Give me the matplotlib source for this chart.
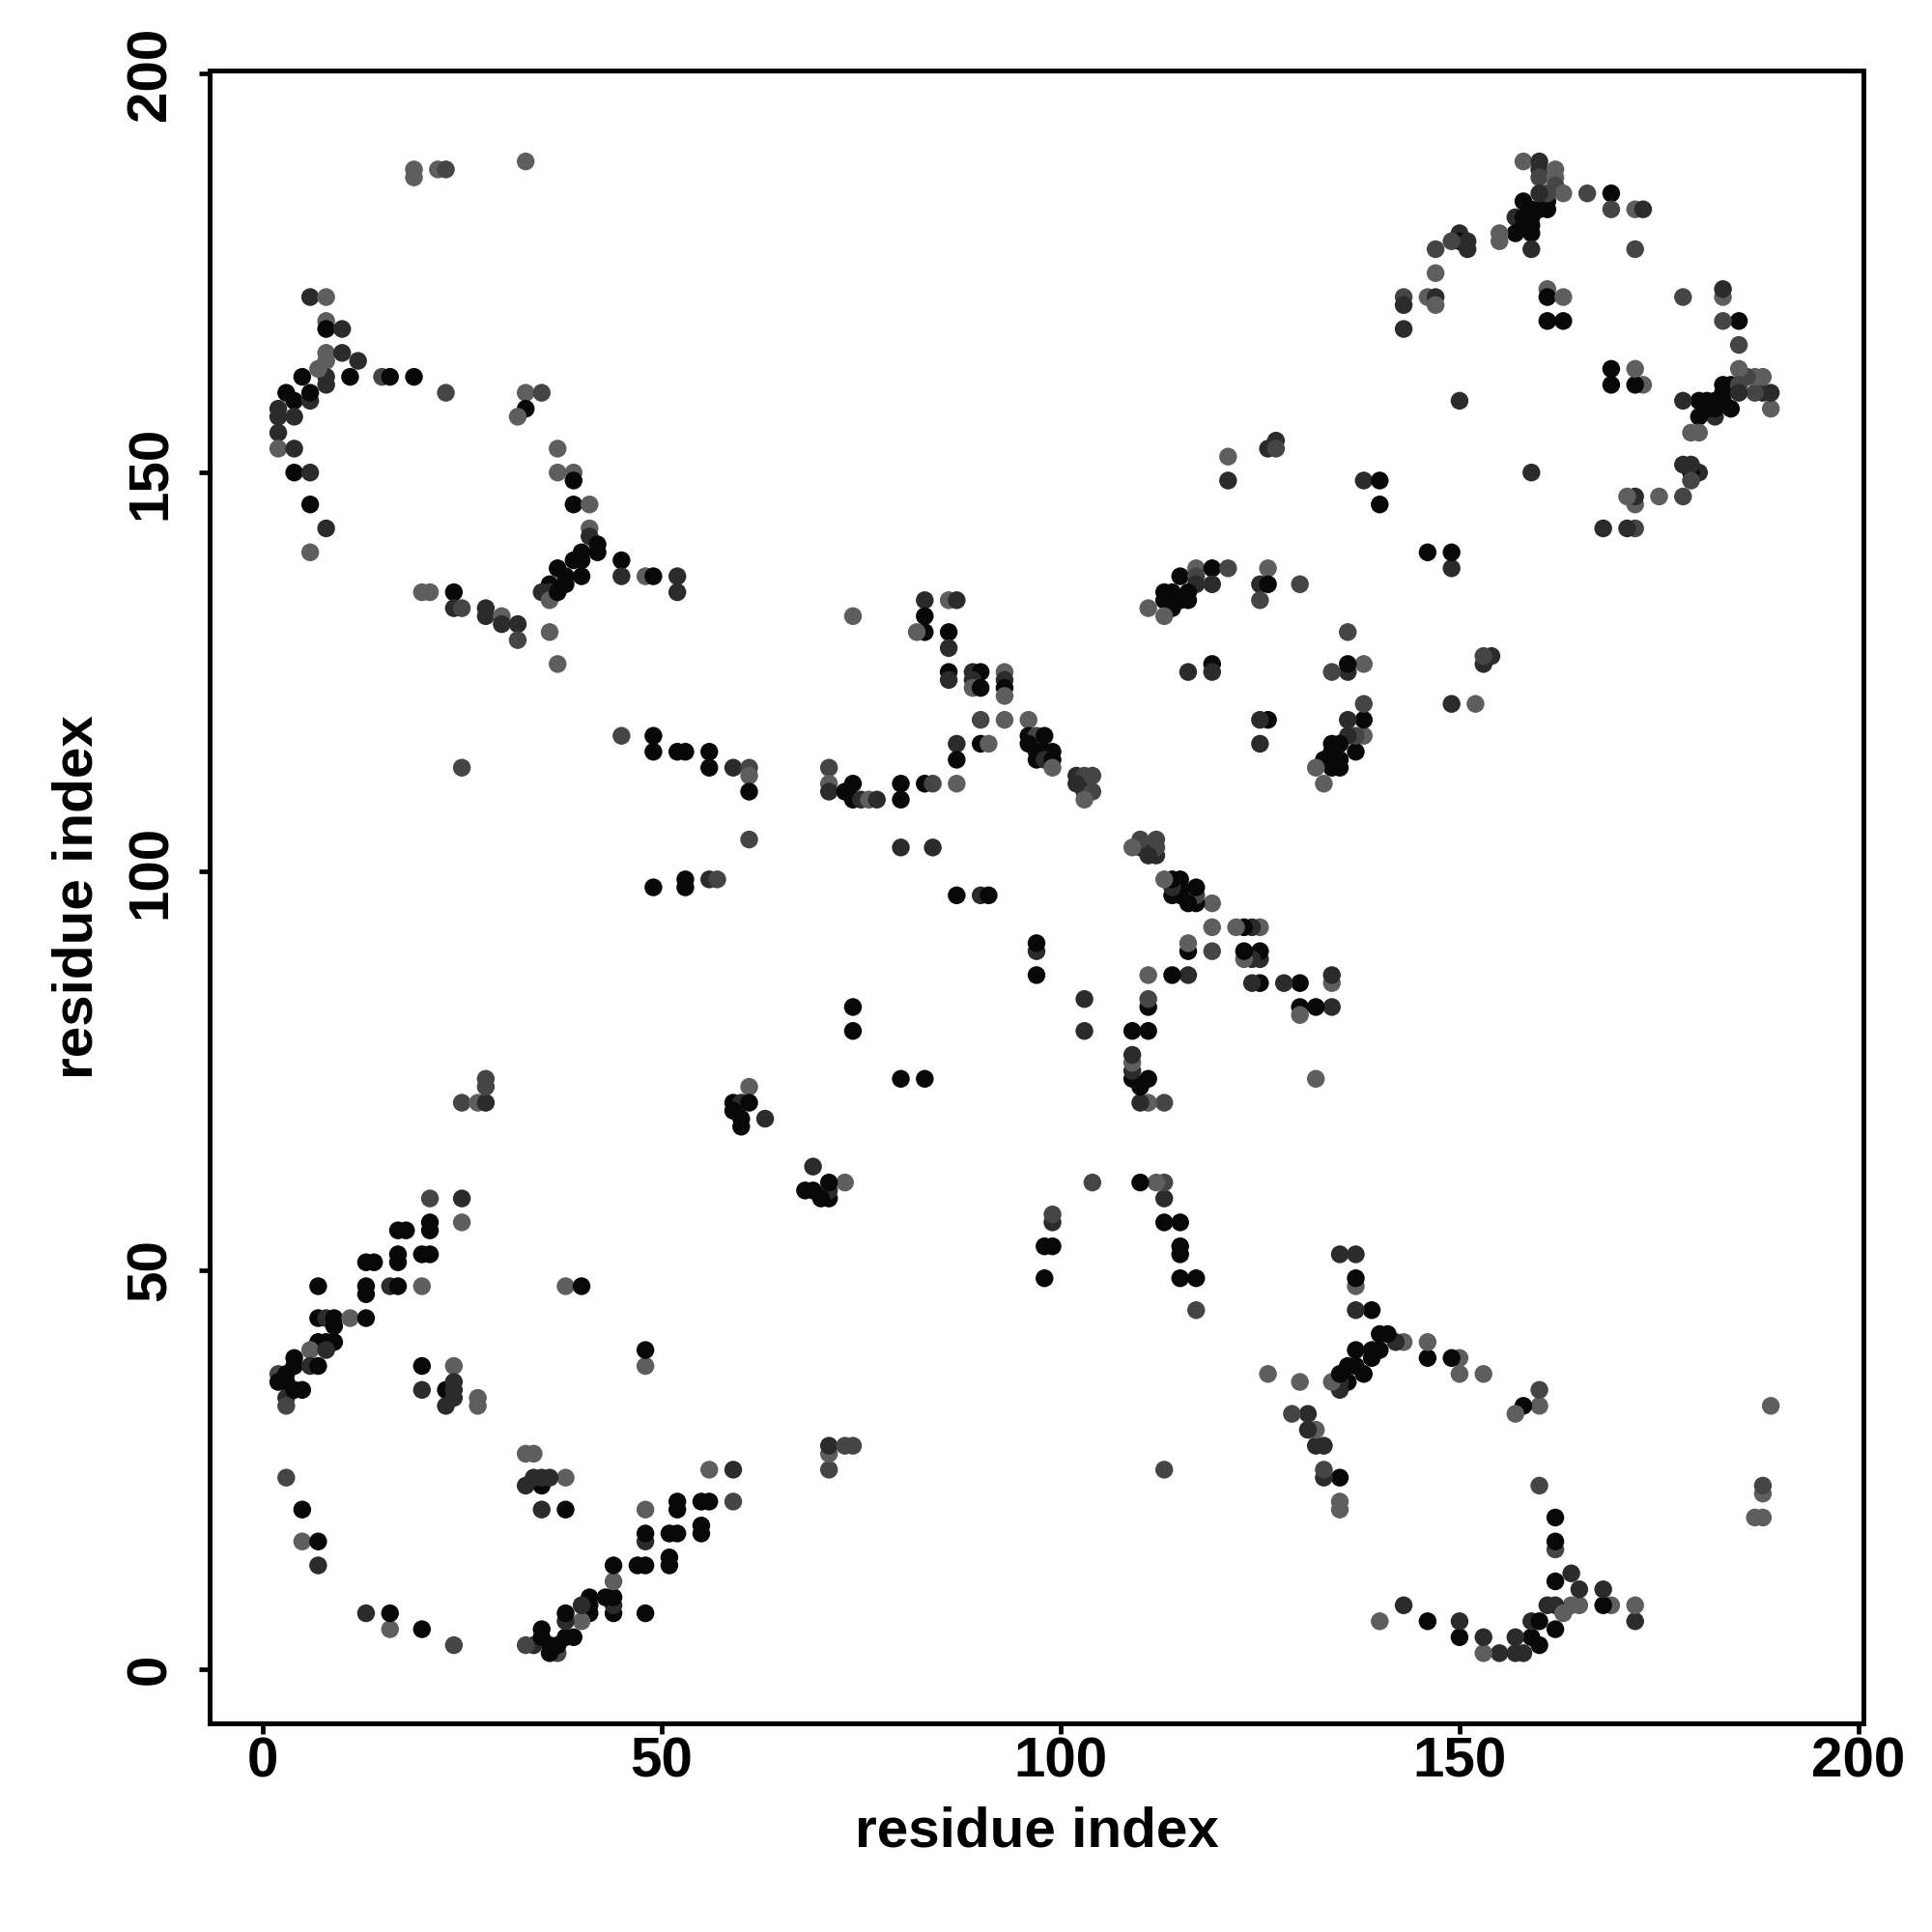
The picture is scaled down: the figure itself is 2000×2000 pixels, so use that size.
import numpy as np
import matplotlib
matplotlib.use("Agg")
import matplotlib.pyplot as plt

# contacts read from the upper triangle (i < j); the map is symmetric
res_i = [19, 19, 22, 23, 33, 6, 8, 8, 8, 10, 8, 8, 10, 12, 11, 8, 8, 7, 5, 3,
         4, 6, 2, 2, 4, 6, 2, 2, 4, 4, 6, 6, 8, 6, 15, 16, 19, 23, 33, 35,
         33, 32, 37, 37, 39, 39, 39, 41, 41, 41, 42, 42, 40, 39, 37, 40, 38, 40, 36, 36,
         35, 36, 37, 38, 45, 45, 48, 49, 52, 52, 20, 21, 24, 24, 25, 28, 28, 30, 32, 36,
         30, 32, 37,
         25, 45, 49, 49, 52, 53, 56, 56, 59, 61, 61, 61, 61, 49, 53, 53, 56, 57, 25, 27,
         28, 28, 28, 61, 59, 60, 61, 59, 60, 60, 63,
         121, 121, 126, 127, 127, 117, 119, 121, 115, 117, 119, 117, 113, 114, 116, 113, 115, 116, 111, 114,
         113, 126, 125, 126, 125, 130, 83, 83, 86, 87, 74,
         83, 82, 86, 86, 86, 86, 89, 90, 89, 89, 90, 93, 93, 93, 93, 90, 93, 96, 87, 87,
         90, 91, 96, 97, 98, 96, 97, 98, 99, 97, 98, 99, 99, 102, 103, 104, 102, 103, 104, 103,
         71, 71, 71, 73, 74, 74, 75, 76, 77, 80, 80, 83, 84, 87, 80, 84, 87, 90, 91, 74,
         74, 116, 119, 119,
         158, 160, 160, 160, 162, 162, 162, 163, 166, 169, 169, 172, 173, 172, 158, 159, 160, 161, 161, 157,
         158, 159, 158, 159, 157, 159, 159, 161, 160, 155, 155, 150, 150, 151, 151, 149, 147, 147, 143, 143,
         146, 147, 147, 143, 161, 161, 163, 161, 163, 150, 138, 140, 140,
         21, 25, 25, 21, 21, 17, 18, 17, 17, 20, 21, 13, 14, 13, 13, 16, 17, 20, 7, 7,
         8, 9, 11, 13, 9, 7, 8, 9, 6, 8, 4, 4, 6, 7, 2, 3, 2, 3, 5, 3,
         3, 4, 20, 24, 20, 23, 24, 24, 23, 24, 27, 27, 3, 5, 5, 7, 7, 38, 40]
res_j = [188, 187, 188, 188, 189, 172, 172, 169, 168, 168, 165, 164, 165, 164, 162, 162, 161, 163, 162, 160,
         159, 159, 158, 157, 157, 160, 155, 153, 153, 150, 150, 146, 143, 140, 162, 162, 162, 160, 160, 160,
         158, 157, 153, 150, 150, 149, 146, 146, 143, 142, 141, 140, 140, 139, 138, 139, 137, 137, 136, 135,
         135, 134, 135, 136, 139, 137, 137, 137, 137, 135, 135, 135, 135, 133, 133, 133, 132, 132, 131, 130,
         131, 129, 126,
         113, 117, 117, 115, 115, 115, 115, 113, 113, 113, 112, 110, 104, 98, 99, 98, 99, 99, 71, 71,
         71, 74, 73, 73, 71, 71, 71, 70, 69, 68, 69,
         152, 149, 153, 154, 153, 138, 138, 138, 137, 137, 136, 136, 135, 135, 135, 134, 134, 134, 133, 133,
         132, 138, 136, 136, 134, 136, 134, 132, 134, 134, 132,
         130, 130, 130, 128, 125, 124, 125, 125, 124, 123, 123, 125, 124, 123, 122, 119, 119, 119, 116, 114,
         116, 116, 117, 117, 117, 116, 115, 115, 115, 114, 114, 114, 113, 112, 112, 112, 111, 110, 110, 109,
         113, 111, 110, 110, 111, 109, 109, 109, 109, 111, 109, 111, 111, 111, 103, 103, 97, 97, 97, 83,
         80, 125, 126, 125,
         189, 189, 188, 187, 188, 187, 186, 185, 185, 185, 183, 183, 183, 178, 184, 183, 183, 183, 184, 182,
         182, 182, 181, 181, 180, 180, 178, 185, 185, 180, 179, 180, 179, 179, 178, 179, 178, 175, 172, 171,
         172, 172, 171, 168, 173, 172, 172, 169, 169, 159, 149, 149, 146,
         59, 59, 56, 56, 55, 55, 55, 52, 51, 52, 52, 51, 51, 48, 47, 48, 48, 48, 48, 44,
         44, 44, 44, 44, 43, 41, 41, 41, 40, 40, 39, 38, 38, 38, 37, 37, 36, 36, 35, 34,
         33, 35, 38, 38, 35, 35, 36, 34, 33, 35, 34, 33, 24, 20, 16, 16, 13, 48, 48]
# 0 = black (strongest) ... 3 = light grey (weakest)
level = [3, 3, 3, 2, 3, 1, 3, 3, 0, 1, 3, 3, 1, 1, 0, 1, 1, 3, 0, 0,
         0, 1, 1, 1, 1, 0, 1, 3, 1, 0, 1, 0, 1, 3, 2, 0, 0, 2, 3, 2,
         0, 3, 3, 3, 3, 0, 0, 3, 3, 1, 0, 0, 0, 0, 0, 0, 0, 0, 0, 1,
         1, 3, 0, 0, 0, 1, 3, 0, 1, 1, 3, 3, 0, 1, 2, 1, 1, 3, 1, 3,
         1, 2, 3,
         2, 2, 0, 0, 0, 0, 0, 0, 1, 2, 3, 0, 2, 0, 0, 0, 1, 2, 2, 3,
         1, 2, 2, 3, 0, 1, 0, 0, 0, 0, 1,
         3, 1, 1, 1, 2, 3, 0, 2, 0, 2, 1, 1, 0, 0, 0, 0, 0, 0, 3, 0,
         3, 3, 1, 0, 2, 2, 1, 0, 3, 1, 3,
         0, 3, 0, 1, 0, 1, 1, 0, 1, 3, 0, 3, 1, 0, 3, 2, 3, 3, 1, 0,
         0, 3, 0, 2, 0, 0, 0, 0, 0, 0, 1, 0, 3, 1, 2, 2, 1, 1, 2, 3,
         2, 3, 1, 0, 0, 0, 1, 3, 1, 0, 0, 0, 2, 3, 1, 1, 0, 1, 0, 0,
         0, 1, 0, 1,
         3, 1, 1, 2, 3, 3, 2, 3, 2, 0, 2, 3, 1, 2, 0, 0, 0, 0, 0, 1,
         0, 0, 0, 0, 0, 0, 1, 2, 1, 3, 3, 1, 0, 1, 1, 2, 2, 3, 2, 1,
         3, 1, 3, 1, 3, 0, 3, 0, 0, 1, 1, 0, 0,
         2, 1, 3, 0, 0, 0, 0, 0, 0, 0, 0, 0, 0, 0, 0, 1, 0, 3, 0, 0,
         1, 0, 3, 0, 0, 0, 0, 0, 3, 1, 0, 0, 1, 0, 2, 0, 0, 0, 0, 1,
         2, 0, 0, 3, 1, 0, 1, 1, 1, 1, 3, 3, 2, 0, 3, 0, 1, 3, 0]

ticks = [0, 50, 100, 150, 200]

plt.rcParams['font.family'] = ['Liberation Sans', 'DejaVu Sans']
plt.rcParams['font.weight'] = 'bold'

i = np.array(res_i)
j = np.array(res_j)
lv = np.array(level)
grey_of = np.array([0.03, 0.17, 0.27, 0.37])
cols = np.repeat(grey_of[lv][:, None], 3, axis=1)

fig = plt.figure(figsize=(20, 20), dpi=100)
ax = fig.add_axes([0.1085, 0.108, 0.856, 0.8555])

# both halves of the symmetric map
ax.scatter(j, i, s=176, c=cols, linewidths=0)
ax.scatter(i, j, s=176, c=cols, linewidths=0)

ax.set_xlim(-6.6, 200.6)
ax.set_ylim(-6.8, 200.4)
ax.set_xticks(ticks)
ax.set_yticks(ticks)
ax.set_xticklabels([str(t) for t in ticks], fontsize=42, fontweight='bold')
ax.set_yticklabels([str(t) for t in ticks], fontsize=42, fontweight='bold',
                   rotation=90, va='center')

for sp in ax.spines.values():
    sp.set_linewidth(3.6)
ax.tick_params(axis='x', length=8, width=3.4, pad=1.5)
ax.tick_params(axis='y', length=8, width=3.4, pad=16)

ax.set_xlabel('residue index', fontsize=42, fontweight='bold', labelpad=13)
ax.set_ylabel('residue index', fontsize=42, fontweight='bold', labelpad=16)

fig.savefig('out.png', dpi=100, facecolor='white')
